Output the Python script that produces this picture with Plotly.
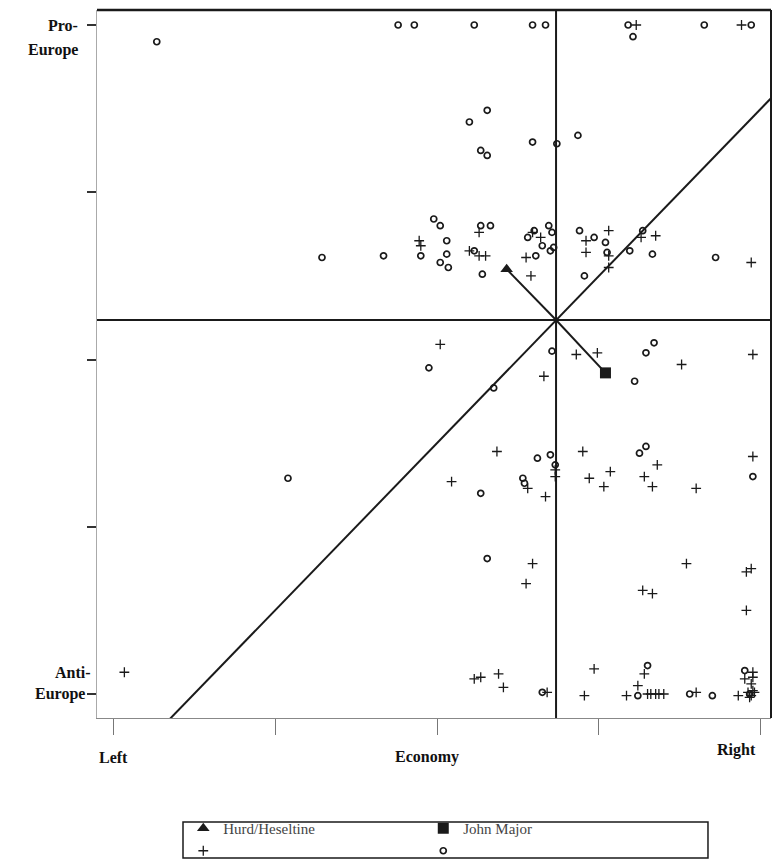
import plotly.graph_objects as go

# ---- data (Economy: left 0 .. right 4 ; Europe: anti 0 .. pro 4) ----
plus_x = [3.23, 3.88, 1.89, 1.90, 2.26, 2.20, 2.26, 2.30, 2.59, 2.55, 2.58, 2.64, 2.92, 2.92,
          3.06, 3.06, 3.06, 3.35, 3.26, 3.94, 2.02, 2.86, 2.99, 2.66, 3.51, 3.95, 2.09, 2.37,
          2.56, 2.67, 2.73, 2.73, 2.90, 2.94, 3.07, 3.03, 3.36, 3.28, 3.33, 3.60, 3.95, 2.59,
          2.55, 3.27, 3.33, 3.54, 3.91, 3.94, 3.91, 2.23, 2.27, 2.38, 2.41, 2.68, 2.97, 2.91,
          3.17, 3.28, 3.24, 3.30, 3.32, 3.35, 3.37, 3.40, 3.60, 3.86, 3.90, 3.95, 3.95, 3.94,
          3.92, 3.94, 3.96, 3.93, 3.95, 0.07]
plus_y = [4.00, 4.00, 2.71, 2.68, 2.76, 2.65, 2.62, 2.62, 2.76, 2.61, 2.50, 2.73, 2.71, 2.64,
          2.77, 2.62, 2.55, 2.74, 2.73, 2.58, 2.09, 2.03, 2.04, 1.90, 1.97, 2.03, 1.27, 1.45,
          1.23, 1.18, 1.34, 1.30, 1.45, 1.29, 1.33, 1.24, 1.37, 1.30, 1.24, 1.23, 1.42, 0.78,
          0.66, 0.62, 0.60, 0.78, 0.73, 0.75, 0.50, 0.09, 0.10, 0.12, 0.04, 0.01, 0.15, -0.01,
          -0.01, 0.12, 0.05, 0.00, 0.00, 0.00, 0.00, 0.00, 0.01, -0.01, 0.09, 0.13, 0.10, 0.06,
          0.01, -0.01, 0.01, -0.02, 0.02, 0.13]

oval_x = [1.76, 1.86, 2.23, 2.59, 2.67, 3.18, 3.65, 3.94, 3.21, 0.27, 2.31, 2.20, 2.27, 2.31,
          2.59, 2.74, 2.87, 1.29, 1.67, 1.98, 2.02, 1.90, 2.06, 2.06, 2.02, 2.07, 2.27, 2.33,
          2.23, 2.28, 2.56, 2.60, 2.65, 2.61, 2.69, 2.71, 2.72, 2.70, 2.88, 2.97, 3.04, 3.05,
          2.91, 3.27, 3.19, 3.33, 3.72, 1.95, 2.71, 2.35, 3.34, 3.29, 3.22, 2.27, 2.62, 2.70,
          2.73, 2.53, 2.54, 3.25, 3.29, 3.95, 1.08, 2.31, 2.65, 3.30, 3.24, 3.56, 3.70, 3.90,
          3.93]
oval_y = [4.00, 4.00, 4.00, 4.00, 4.00, 4.00, 4.00, 4.00, 3.93, 3.90, 3.49, 3.42, 3.25, 3.22,
          3.30, 3.29, 3.34, 2.61, 2.62, 2.84, 2.80, 2.62, 2.71, 2.63, 2.58, 2.55, 2.80, 2.80,
          2.65, 2.51, 2.73, 2.77, 2.68, 2.62, 2.80, 2.76, 2.67, 2.65, 2.77, 2.73, 2.70, 2.64,
          2.50, 2.77, 2.65, 2.63, 2.61, 1.95, 2.05, 1.83, 2.10, 2.04, 1.87, 1.20, 1.41, 1.43,
          1.37, 1.29, 1.26, 1.44, 1.48, 1.30, 1.29, 0.81, 0.01, 0.17, -0.01, 0.00, -0.01, 0.14,
          0.00]

party_centre = (2.735, 2.236)
hurd = (2.43, 2.54)
major = (3.04, 1.92)
diag_x = [0.30, 4.20]
diag_y = [-0.20, 3.70]

x_ticks = [0, 1, 2, 3, 4]
y_ticks = [0, 1, 2, 3, 4]
x_range = [-0.099, 4.062]
y_range = [-0.1435, 4.0897]

SERIF = "Liberation Serif, Times New Roman, serif"
INK = "#1a1a1a"

fig = go.Figure()

fig.add_trace(go.Scatter(
    x=plus_x, y=plus_y, mode="markers", name=" ", legendrank=3,
    marker=dict(symbol="cross-thin", size=7, line=dict(width=1.3, color=INK), color=INK)))
fig.add_trace(go.Scatter(
    x=oval_x, y=oval_y, mode="markers", name=" ", legendrank=4,
    marker=dict(symbol="circle-open", size=6, line=dict(width=1.7, color=INK), color=INK)))

# centre cross lines
fig.add_trace(go.Scatter(x=[party_centre[0]] * 2, y=y_range, mode="lines",
                         line=dict(color=INK, width=2), showlegend=False, hoverinfo="skip"))
fig.add_trace(go.Scatter(x=x_range, y=[party_centre[1]] * 2, mode="lines",
                         line=dict(color=INK, width=2), showlegend=False, hoverinfo="skip"))
fig.add_trace(go.Scatter(x=diag_x, y=diag_y, mode="lines",
                         line=dict(color=INK, width=2), showlegend=False, hoverinfo="skip"))
fig.add_trace(go.Scatter(x=[party_centre[0], hurd[0]], y=[party_centre[1], hurd[1]], mode="lines",
                         line=dict(color=INK, width=2), showlegend=False, hoverinfo="skip"))
fig.add_trace(go.Scatter(x=[party_centre[0], major[0]], y=[party_centre[1], major[1]], mode="lines",
                         line=dict(color=INK, width=2), showlegend=False, hoverinfo="skip"))

fig.add_trace(go.Scatter(
    x=[hurd[0]], y=[hurd[1]], mode="markers", name="Hurd/Heseltine", legendrank=1,
    marker=dict(symbol="triangle-up", size=11, color=INK)))
fig.add_trace(go.Scatter(
    x=[major[0]], y=[major[1]], mode="markers", name="John Major", legendrank=2,
    marker=dict(symbol="square", size=11, color=INK)))

# frame: top and right borders
fig.add_shape(type="line", xref="paper", yref="paper", x0=0, x1=1, y0=1, y1=1,
              line=dict(color=INK, width=2.5))
fig.add_shape(type="line", xref="paper", yref="paper", x0=1, x1=1, y0=0, y1=1,
              line=dict(color=INK, width=2))
# legend frame
fig.add_shape(type="rect", xref="paper", yref="paper", x0=0.1276, x1=0.9065, y0=-0.1469, y1=-0.1977,
              line=dict(color=INK, width=1.5), fillcolor="white", layer="below")

ann_font = dict(family=SERIF, size=16, color="#111")
anns = [
    dict(text="<b>Pro-</b>", xref="paper", x=0, xshift=-17, xanchor="right", yref="y", y=4, yanchor="middle"),
    dict(text="<b>Europe</b>", xref="paper", x=0, xshift=-17, xanchor="right", yref="y", y=4, yshift=-25, yanchor="middle"),
    dict(text="<b>Anti-</b>", xref="paper", x=0, xshift=-4, xanchor="right", yref="y", y=0, yshift=22, yanchor="middle"),
    dict(text="<b>Europe</b>", xref="paper", x=0, xshift=-10, xanchor="right", yref="y", y=0, yanchor="middle"),
    dict(text="<b>Left</b>", xref="x", x=0, xanchor="center", yref="paper", y=0, yshift=-39, yanchor="middle"),
    dict(text="<b>Economy</b>", xref="x", x=1.94, xanchor="center", yref="paper", y=0, yshift=-39, yanchor="middle"),
    dict(text="<b>Right</b>", xref="x", x=3.85, xanchor="center", yref="paper", y=0, yshift=-32, yanchor="middle"),
]
for a in anns:
    a.update(showarrow=False, font=ann_font)
    fig.add_annotation(**a)

fig.update_layout(
    width=774, height=867,
    margin=dict(l=97, r=3, t=10, b=149, autoexpand=False),
    paper_bgcolor="white", plot_bgcolor="white",
    font=dict(family=SERIF, color="#333"),
    legend=dict(orientation="h", x=0.128, xanchor="left", y=-0.1328, yanchor="top",
                entrywidth=195, borderwidth=0,
                font=dict(family=SERIF, size=15, color="#444"), bgcolor="rgba(0,0,0,0)",
                itemwidth=30),
    xaxis=dict(range=x_range, tickvals=x_ticks, ticktext=[""] * 5, ticks="outside", ticklen=16,
               tickcolor="#777", tickwidth=1, showgrid=False, zeroline=False,
               showline=True, linecolor="#888", linewidth=1),
    yaxis=dict(range=y_range, tickvals=y_ticks, ticktext=[""] * 5, ticks="outside", ticklen=9,
               tickcolor="#333", tickwidth=1.5, showgrid=False, zeroline=False,
               showline=True, linecolor="#aaa", linewidth=1),
    showlegend=True,
)

fig.write_html("out.html", config={"displayModeBar": False},
               post_script="document.body.style.margin='0';")
